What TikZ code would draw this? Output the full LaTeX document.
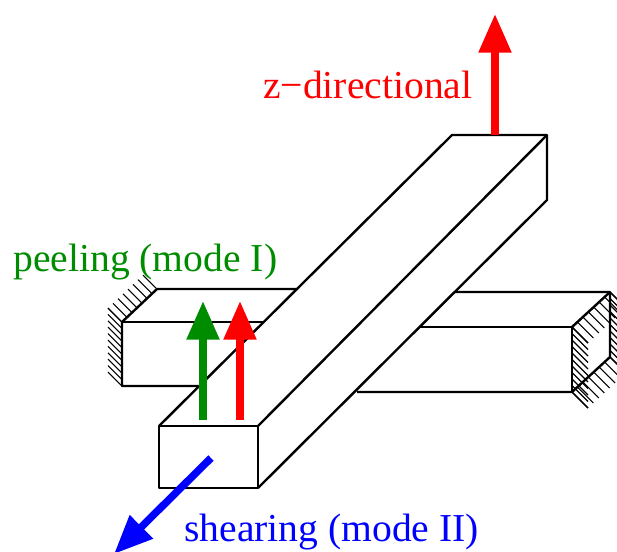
\documentclass[tikz,border=0pt]{standalone}
\usepackage{fontspec}
\setmainfont{Liberation Serif}
\usetikzlibrary{arrows.meta,calc}
\definecolor{peelgreen}{RGB}{0,140,0}
\tikzset{
    beamline/.style={black, line width=1.8pt, line join=round},
    hatchline/.style={black, line width=0.8pt},
    loadarrow/.style={line width=5.6pt, -{Triangle[length=29pt,width=23.5pt]}},
    loadlabel/.style={anchor=base west, inner sep=0pt, font=\fontsize{29.7}{33}\selectfont}
}
\begin{document}
\begin{tikzpicture}[x=0.75pt, y=-0.75pt]
        \clip (0,0) rectangle (617,551);
        \coordinate (wall-a) at (157,289);
        \coordinate (wall-b) at (122,322);
        \coordinate (wall-c) at (122,386);
        \coordinate (end-a) at (572,327);
        \coordinate (end-b) at (610,292);
        \coordinate (end-c) at (610,357);
        \coordinate (end-d) at (572,392);
        \foreach \from/\to/\steps/\shiftx/\shifty in {wall-a/wall-b/7/-14/-14,wall-b/wall-c/10/-14/-14,end-a/end-d/10/16/16,end-b/end-a/7/16/16,end-b/end-c/10/16/16,end-c/end-d/7/16/16} {
            \foreach \index in {0,...,\steps}
                \draw[hatchline] ($(\from)!\index/\steps!(\to)$) -- ++(\shiftx,\shifty);
        }
        \draw[beamline] (298,289) -- (wall-a) -- (wall-b) -- (wall-c) -- (198,386);
        \draw[beamline] (wall-b) -- (263,322);
        \draw[beamline] (455,292) -- (end-b) -- (end-c) -- (end-d) -- (357,392);
        \draw[beamline] (420,327) -- (end-a) -- (end-d);
        \draw[beamline] (end-a) -- (end-b);
        \coordinate (bar-a) at (159,426);
        \coordinate (bar-b) at (258,426);
        \coordinate (bar-c) at (258,488);
        \coordinate (bar-d) at (159,488);
        \coordinate (bar-e) at (452,135);
        \coordinate (bar-f) at (547,135);
        \coordinate (bar-g) at (547,200);
        \draw[beamline] (bar-a) -- (bar-b) -- (bar-c) -- (bar-d) -- cycle;
        \draw[beamline] (bar-a) -- (bar-e) -- (bar-f) -- (bar-g) -- (bar-c);
        \draw[beamline] (bar-b) -- (bar-f);
        \draw[loadarrow, red] (495,135) -- (495,14);
        \draw[loadarrow, peelgreen] (203,420) -- (203,301);
        \draw[loadarrow, red] (240,420) -- (240,301);
        \draw[loadarrow, blue] (211,458) -- (114,554);
        \node[loadlabel, red] (zlabel) at (263,98) {z−directional};
        \node[loadlabel, peelgreen] (peellabel) at (13,271) {peeling (mode I)};
        \node[loadlabel, blue] (shearlabel) at (184,541) {shearing (mode II)};
    \end{tikzpicture}
\end{document}
